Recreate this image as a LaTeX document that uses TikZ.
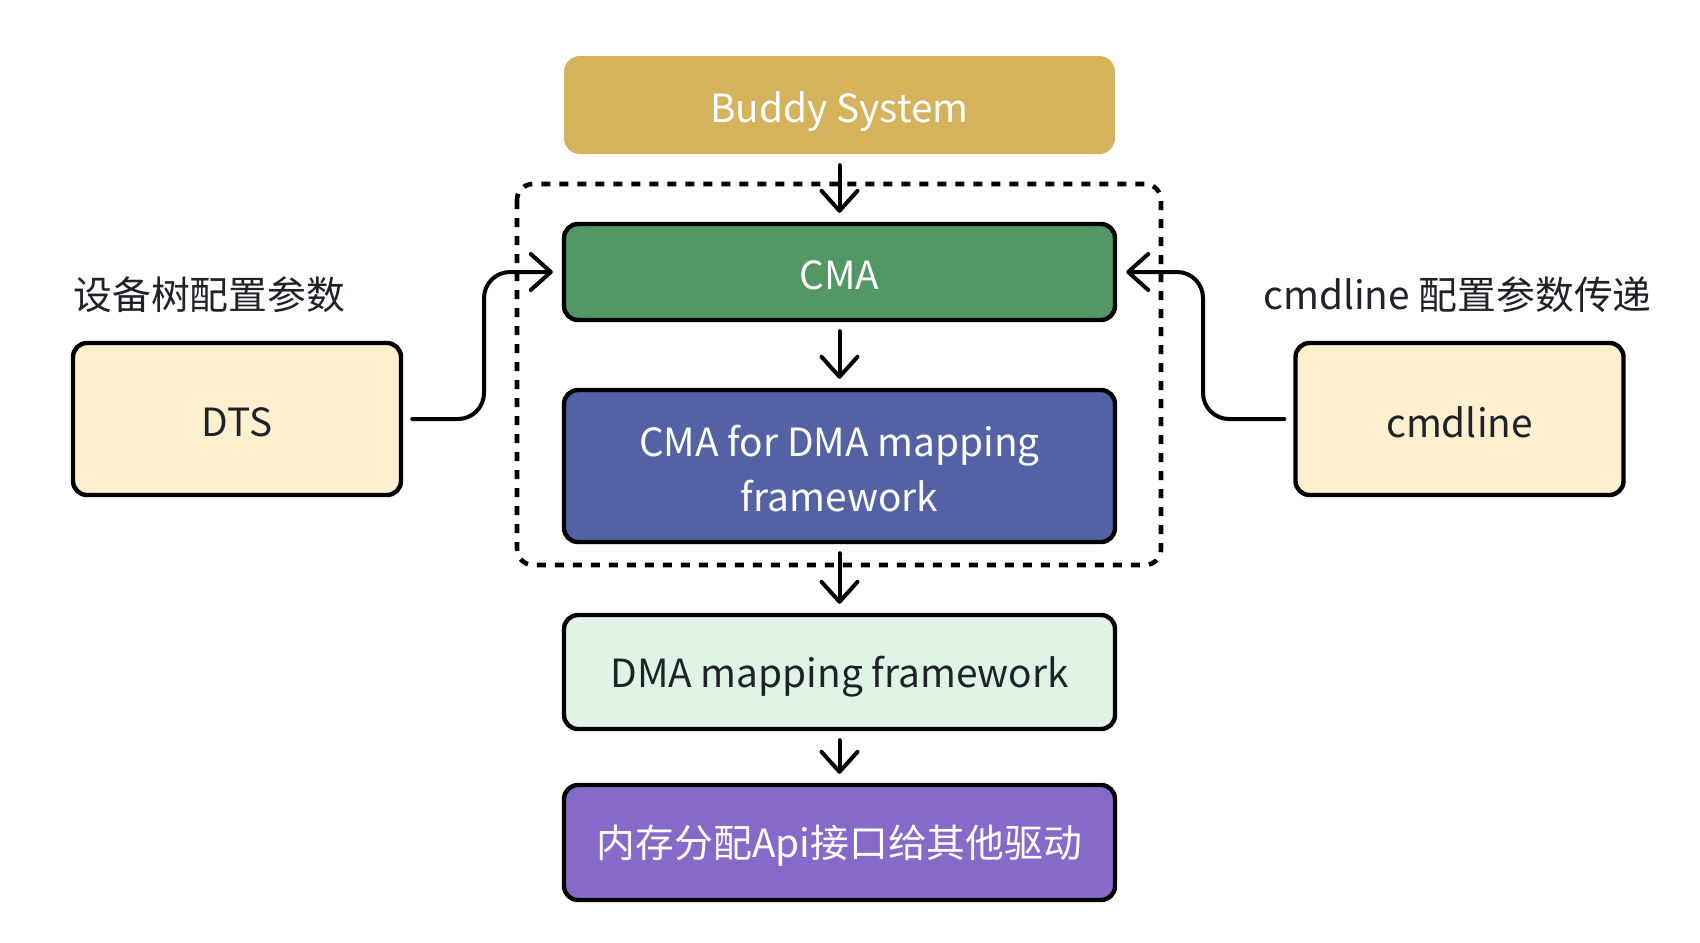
\documentclass[tikz,border=0pt]{standalone}
\usepackage{fontspec}
\setmainfont{Noto Sans CJK SC}
\usetikzlibrary{arrows.meta,positioning}
\definecolor{buddy}{HTML}{D4B35C}
\definecolor{cmagreen}{HTML}{519865}
\definecolor{cmablue}{HTML}{5262A4}
\definecolor{dmagreen}{HTML}{DFF4E4}
\definecolor{apipurple}{HTML}{8769C9}
\definecolor{cream}{HTML}{FDF0CF}
\definecolor{txtdark}{HTML}{1F2329}
\tikzset{
  box/.style={rectangle, rounded corners=7pt, draw=black, line width=2.2pt,
    minimum width=275.5pt, inner sep=0pt},
  sidebox/.style={box, minimum width=164pt, minimum height=76pt, fill=cream},
  txt/.style={align=center, font=\fontsize{19.4pt}{27.5pt}\selectfont, inner sep=0pt},
  arr/.style={line width=2pt, line cap=round, shorten <=4.5pt, shorten >=4.5pt,
    -{Straight Barb[length=10pt,width=18pt,round]}},
  lbl/.style={font=\fontsize{19.4pt}{25pt}\selectfont, text=txtdark, inner sep=0pt}
}
\begin{document}
\begin{tikzpicture}[x=0.5pt,y=-0.5pt]
\useasboundingbox (0,0) rectangle (1700,942);
\fill[white] (0,0) rectangle (1700,942);
% dashed group
\draw[line width=2.3pt, dash pattern=on 4.5pt off 4.5pt, rounded corners=8pt]
  (517,184) rectangle (1161,565);
\node[box, draw=none, fill=buddy, minimum height=49pt, rounded corners=8pt] (buddy) at (839.5,105) {};
\node[box, fill=cmagreen, minimum height=48pt] (cma) at (839.5,272) {};
\node[box, fill=cmablue, minimum height=76pt] (cmadma) at (839.5,466) {};
\node[box, fill=dmagreen, minimum height=57pt] (dma) at (839.5,672) {};
\node[box, fill=apipurple, minimum height=57.5pt] (api) at (839.5,842.5) {};
\node[sidebox] (dts) at (237,419) {};
\node[sidebox] (cmd) at (1459.5,419) {};
% texts
\node[txt, text=white] (buddyt) at ([yshift=-3.5pt]buddy.center) {Buddy System};
\node[txt, text=white] (cmat) at ([yshift=-1.8pt]cma.center) {CMA};
\node[txt, text=white] (cmadmat) at ([yshift=-1.5pt]cmadma.center) {CMA for DMA mapping\\framework};
\node[txt, text=txtdark] (dmat) at ([yshift=-2.5pt]dma.center) {DMA mapping framework};
\node[txt, text=white] (apit) at ([yshift=-1.8pt]api.center) {内存分配Api接口给其他驱动};
\node[txt, text=txtdark] (dtst) at ([yshift=-1.8pt]dts.center) {DTS};
\node[txt, text=txtdark] (cmdt) at ([yshift=-1.8pt]cmd.center) {cmdline};
\node[lbl, anchor=west] (dtslbl) at (73,295) {设备树配置参数};
\node[lbl, anchor=east] (cmdlbl) at (1652,295) {cmdline 配置参数传递};
% vertical arrows
\draw[arr] (buddy) -- (cma);
\draw[arr] (cma) -- (cmadma);
\draw[arr] (cmadma) -- (dma);
\draw[arr] (dma) -- (api);
% side arrows
\coordinate (jl) at (484,419);
\coordinate (jr) at (1203,419);
\draw[arr, rounded corners=13pt] (dts.east) -- (jl) |- (cma.west);
\draw[arr, rounded corners=13pt] (cmd.west) -- (jr) |- (cma.east);
\end{tikzpicture}
\end{document}
